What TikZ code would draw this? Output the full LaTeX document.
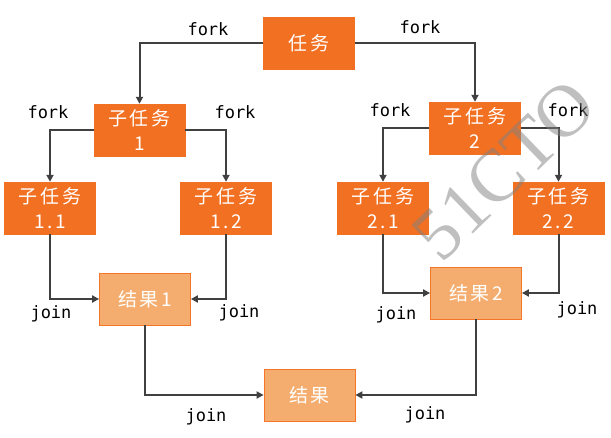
\documentclass[tikz,border=0pt]{standalone}
\usepackage{fontspec}
\usetikzlibrary{arrows.meta}
\newfontfamily\cjk[LetterSpace=14]{Noto Sans CJK SC}
\newfontfamily\lblfont{DejaVu Sans Mono}
\newfontfamily\wmfont{Liberation Serif}
\definecolor{dorange}{RGB}{242,112,34}
\definecolor{lorange}{RGB}{244,173,110}
\definecolor{bord}{RGB}{245,118,40}
\definecolor{arr}{RGB}{64,64,64}
\begin{document}
\begin{tikzpicture}[x=1pt,y=-1pt,
  task/.style={draw=dorange,fill=dorange,minimum width=91pt,minimum height=52pt,inner sep=0pt,
    text=white,font=\cjk\fontsize{19}{25}\selectfont,align=center},
  res/.style={draw=bord,line width=0.8pt,fill=lorange,minimum width=91pt,minimum height=52pt,inner sep=0pt,
    text=white,font=\cjk\fontsize{19}{25}\selectfont,align=center},
  conn/.style={draw=arr,line width=2pt,-{Triangle[length=7pt,width=7pt]}},
  lbl/.style={font=\lblfont\fontsize{17}{17}\selectfont,text=black,anchor=base,inner sep=0pt}]
\useasboundingbox (0,0) rectangle (611,438);
% nodes
\node[task] (rw) at (309,43) {任务};
\node[task] (s1) at (139.5,130) {子任务\\1};
\node[task] (s2) at (475,128) {子任务\\2};
\node[task] (s11) at (50,208) {子任务\\1.1};
\node[task] (s12) at (226,208) {子任务\\1.2};
\node[task] (s21) at (383,208) {子任务\\2.1};
\node[task] (s22) at (558.5,208) {子任务\\2.2};
\node[res] (r1) at (145,299) {结果1};
\node[res] (r2) at (476,293) {结果2};
\node[res] (rf) at (309.5,395) {结果};
% connectors
\draw[conn] (rw.west) -| (s1.north);
\draw[conn] (rw.east) -| (s2.north);
\draw[conn] (s1.west) -| (s11.north);
\draw[conn] (s1.east) -| (s12.north);
\draw[conn] (s2.west) -| (s21.north);
\draw[conn] (s2.east) -| (s22.north);
\draw[conn] (s11.south) |- (r1.west);
\draw[conn] (s12.south) |- (r1.east);
\draw[conn] (s21.south) |- (r2.west);
\draw[conn] (s22.south) |- (r2.east);
\draw[conn] (r1.south) |- (rf.west);
\draw[conn] (r2.south) |- (rf.east);
% labels
\node[lbl] (f1) at (208,36) {fork};
\node[lbl] (f2) at (420,34) {fork};
\node[lbl] (f3) at (48,119) {fork};
\node[lbl] (f4) at (235,119) {fork};
\node[lbl] (f5) at (390,117) {fork};
\node[lbl] (f6) at (568,117) {fork};
\node[lbl] (j1) at (51,319) {join};
\node[lbl] (j2) at (239,318) {join};
\node[lbl] (j3) at (396,320) {join};
\node[lbl] (j4) at (577,315) {join};
\node[lbl] (j5) at (206,422) {join};
\node[lbl] (j6) at (425,420) {join};
% watermark
\node[rotate=44,text=gray,opacity=0.5,font=\wmfont\fontsize{74}{74}\selectfont,inner sep=0pt] (wm) at (504,170) {51CTO};
\end{tikzpicture}
\end{document}
